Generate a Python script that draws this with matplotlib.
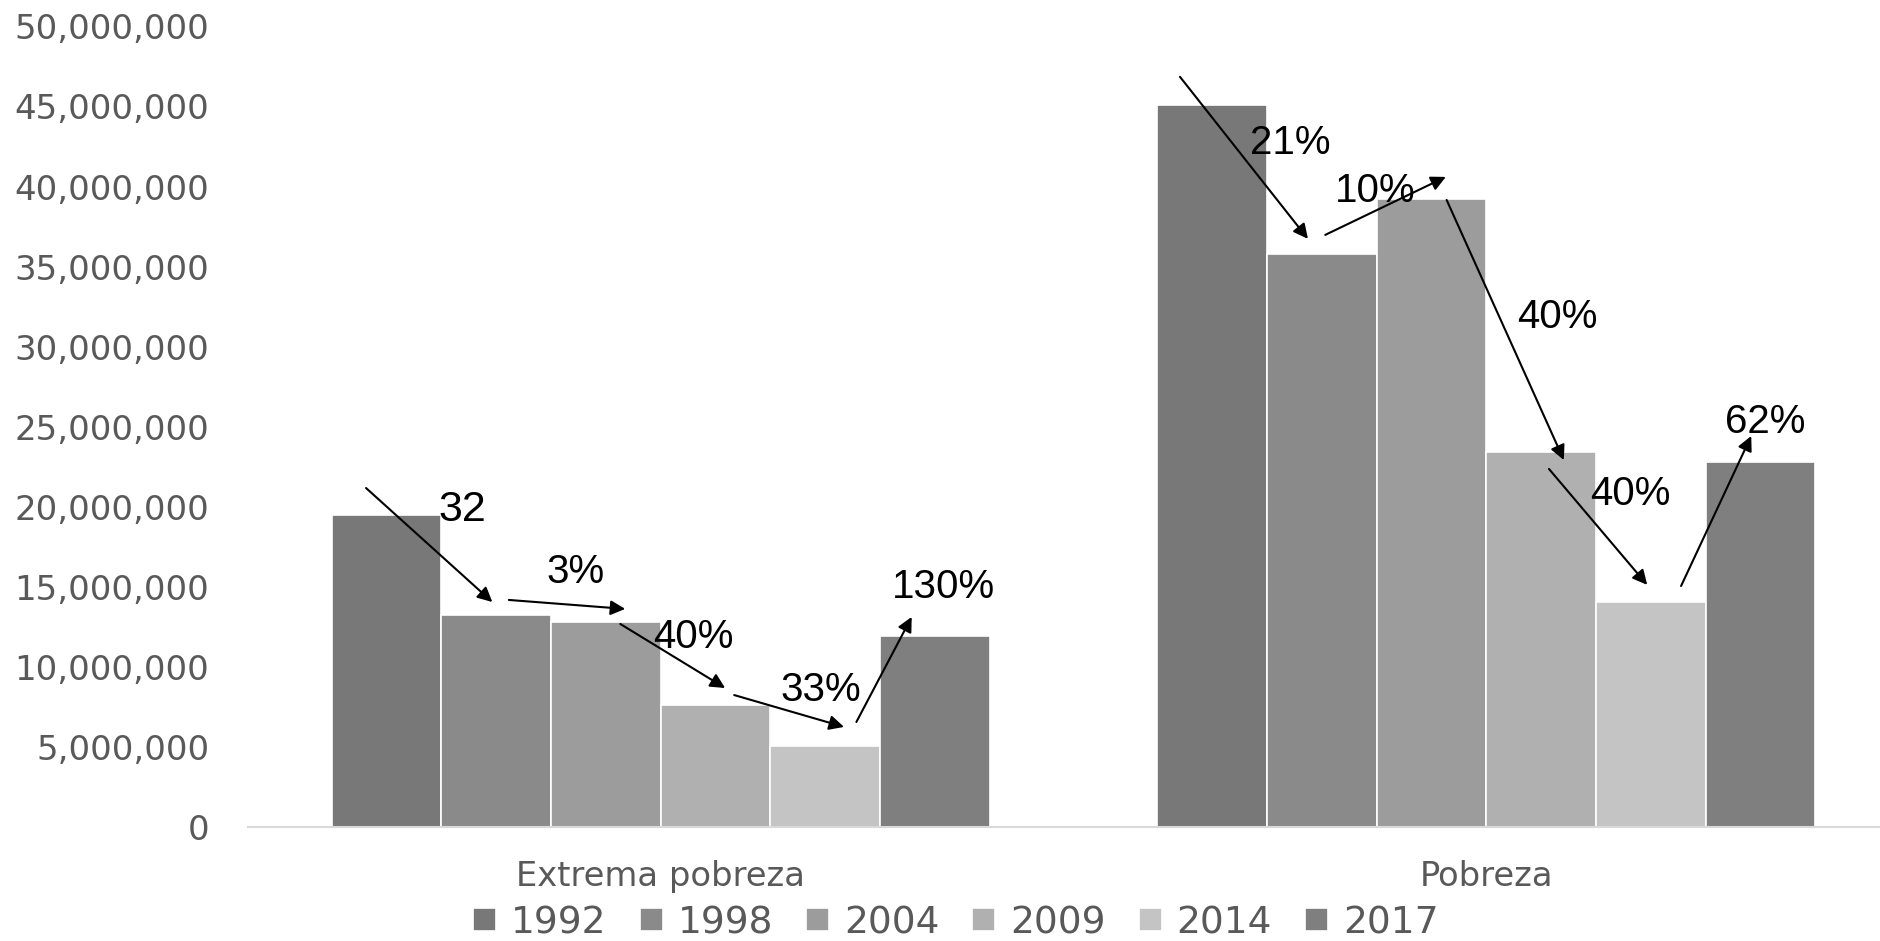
"""Extrema pobreza / Pobreza por año, con cambios porcentuales."""

import matplotlib
matplotlib.use("Agg")
import matplotlib.pyplot as plt
from matplotlib import font_manager
from matplotlib.ticker import FuncFormatter

categories = ["Extrema pobreza", "Pobreza"]
years = ["1992", "1998", "2004", "2009", "2014", "2017"]
# millions of people
values = {
    "1992": [19.46, 45.06],
    "1998": [13.22, 35.80],
    "2004": [12.78, 39.20],
    "2009": [7.60, 23.40],
    "2014": [5.07, 14.05],
    "2017": [11.90, 22.82],
}
colors = ["#787878", "#8a8a8a", "#9c9c9c", "#b0b0b0", "#c4c4c4", "#7f7f7f"]

# change annotations: (label, label position, arrow start, arrow end) in data units (x, millions)
changes = [
    ("32", (-0.241, 19.80), (-0.357, 21.17), (-0.204, 14.05)),
    ("3%", (-0.103, 15.93), (-0.184, 14.18), (-0.043, 13.62)),
    ("40%", (0.039, 11.87), (-0.049, 12.68), (0.078, 8.68)),
    ("33%", (0.194, 8.56), (0.089, 8.24), (0.222, 6.25)),
    ("130%", (0.343, 14.99), (0.237, 6.56), (0.304, 13.12)),
    ("21%", (0.762, 42.72), (0.629, 46.85), (0.784, 36.73)),
    ("10%", (0.866, 39.73), (0.805, 36.98), (0.951, 40.60)),
    ("40%", (1.086, 31.86), (0.952, 39.16), (1.094, 22.92)),
    ("40%", (1.174, 20.80), (1.076, 22.36), (1.195, 15.12)),
    ("62%", (1.338, 25.30), (1.236, 15.05), (1.321, 24.42)),
]

installed = {f.name for f in font_manager.fontManager.ttflist}
narrow = "Liberation Sans Narrow" if "Liberation Sans Narrow" in installed else "Liberation Sans"

plt.rcParams["font.family"] = ["DejaVu Sans"]

W, H = 1880, 941
fig = plt.figure(figsize=(W / 100, H / 100), dpi=100)
x0, y0, y50 = 248, 827, 26.4
cat_px = 825.5
ax = fig.add_axes([x0 / W, (H - y0) / H, 1 - x0 / W, (y0 - y50) / H])

bar_w = 0.797 / len(years)
for i, (yr, col) in enumerate(zip(years, colors)):
    xs = [c + (i - 2.5) * bar_w for c in range(len(categories))]
    ax.bar(xs, [v * 1e6 for v in values[yr]], width=bar_w, color=col,
           edgecolor="white", linewidth=1.2, label=yr)

ax.set_xlim(-0.5, -0.5 + (W - x0) / cat_px)
ax.set_ylim(0, 50e6)
ax.set_yticks([i * 5e6 for i in range(11)])
ax.yaxis.set_major_formatter(FuncFormatter(lambda v, _: f"{int(v):,}"))
ax.set_xticks(range(len(categories)))
ax.set_xticklabels(categories)
ax.tick_params(axis="y", length=0, pad=28, labelsize=24.5, labelcolor="#595959")
ax.tick_params(axis="x", length=0, pad=24, labelsize=24.3, labelcolor="#595959")

for s in ["top", "right", "left"]:
    ax.spines[s].set_visible(False)
ax.spines["bottom"].set_color("#d9d9d9")
ax.spines["bottom"].set_linewidth(1.5)

for label, pos, start, end in changes:
    ax.annotate("", xy=(end[0], end[1] * 1e6), xytext=(start[0], start[1] * 1e6),
                arrowprops=dict(arrowstyle="-|>", color="black", lw=1.5,
                                mutation_scale=22, shrinkA=0, shrinkB=0))
    fam = "Liberation Sans" if label == "32" else narrow
    ax.text(pos[0], pos[1] * 1e6, label, ha="center", va="center",
            fontsize=31 if label == "32" else 29, family=fam, color="black")

fig.legend(loc="center", bbox_to_anchor=(956 / W, 1 - 923 / H), ncol=6,
           frameon=False, fontsize=27, labelcolor="#595959",
           handlelength=0.61, handleheight=0.58, handletextpad=0.4,
           columnspacing=0.88, borderpad=0)

fig.savefig("out.png", dpi=100)
